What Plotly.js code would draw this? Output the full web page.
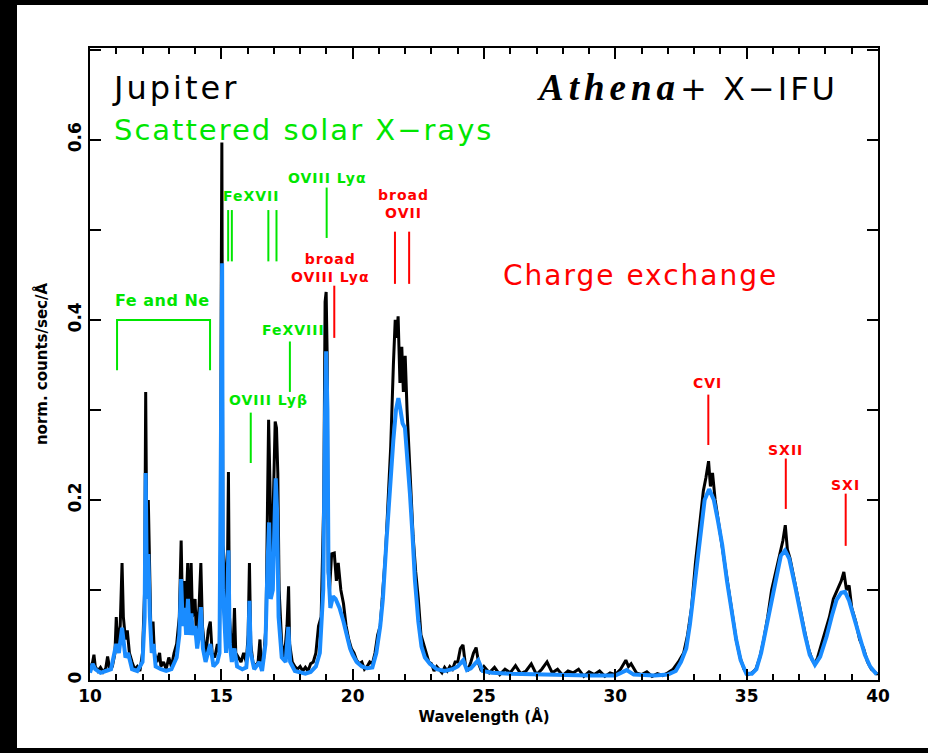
<!DOCTYPE html>
<html>
<head>
<meta charset="utf-8">
<script src="https://cdn.plot.ly/plotly-3.0.1.min.js"></script>
<style>
  html, body { margin: 0; padding: 0; background: #000; width: 928px; height: 753px; overflow: hidden; }
  #chart { position: absolute; left: 17px; top: 5px; width: 911px; height: 743px; }
</style>
</head>
<body>
<div id="chart"></div>
<script>
// High-resolution X-IFU spectrum (black)
const hiresWave = [10.0,10.1,10.15,10.2,10.3,10.4,10.5,10.6,10.67,10.75,10.85,10.95,11.0,11.05,11.15,11.22,11.27,11.35,11.42,11.5,11.6,11.7,11.8,11.9,12.0,12.08,12.12,12.17,12.22,12.27,12.32,12.4,12.45,12.55,12.65,12.7,12.8,12.9,13.0,13.1,13.2,13.3,13.4,13.47,13.52,13.6,13.65,13.72,13.78,13.85,13.9,14.0,14.05,14.15,14.22,14.28,14.35,14.42,14.5,14.58,14.65,14.75,14.85,14.92,14.97,15.0,15.02,15.06,15.12,15.17,15.22,15.27,15.31,15.38,15.45,15.5,15.55,15.65,15.75,15.85,15.95,16.02,16.07,16.12,16.2,16.3,16.4,16.47,16.52,16.6,16.7,16.76,16.8,16.85,16.9,16.95,17.0,17.05,17.1,17.15,17.2,17.3,17.4,17.5,17.56,17.6,17.7,17.8,17.9,18.0,18.1,18.2,18.3,18.4,18.5,18.6,18.7,18.8,18.9,18.95,18.99,19.03,19.07,19.12,19.2,19.3,19.38,19.45,19.55,19.65,19.75,19.85,19.95,20.05,20.15,20.25,20.35,20.45,20.55,20.65,20.75,20.85,20.95,21.05,21.15,21.25,21.35,21.45,21.55,21.62,21.68,21.73,21.8,21.87,21.93,22.0,22.07,22.15,22.22,22.3,22.4,22.5,22.6,22.7,22.8,22.9,23.0,23.1,23.2,23.3,23.4,23.5,23.6,23.7,23.8,23.9,24.0,24.1,24.2,24.3,24.4,24.5,24.6,24.7,24.8,24.9,25.0,25.2,25.4,25.6,25.8,26.0,26.2,26.4,26.6,26.8,27.0,27.2,27.4,27.6,27.8,28.0,28.2,28.4,28.6,28.8,29.0,29.2,29.4,29.6,29.8,30.0,30.2,30.4,30.5,30.6,30.8,31.0,31.2,31.4,31.6,31.8,32.0,32.2,32.4,32.6,32.75,32.9,33.05,33.2,33.35,33.45,33.55,33.62,33.7,33.8,33.9,34.0,34.15,34.3,34.45,34.6,34.75,34.9,35.05,35.2,35.35,35.5,35.65,35.8,35.95,36.1,36.25,36.38,36.47,36.55,36.65,36.75,36.9,37.05,37.2,37.35,37.5,37.6,37.7,37.85,38.0,38.15,38.3,38.45,38.6,38.7,38.8,38.9,39.0,39.15,39.3,39.45,39.6,39.75,39.9,40.0];
const hiresFlux = [0.012,0.02,0.028,0.015,0.01,0.014,0.009,0.013,0.026,0.012,0.015,0.03,0.07,0.04,0.06,0.13,0.07,0.045,0.055,0.03,0.02,0.012,0.015,0.01,0.03,0.1,0.32,0.12,0.2,0.12,0.05,0.065,0.03,0.02,0.03,0.015,0.02,0.012,0.025,0.015,0.03,0.04,0.07,0.155,0.08,0.11,0.07,0.13,0.06,0.13,0.07,0.09,0.05,0.08,0.13,0.06,0.04,0.03,0.055,0.065,0.03,0.025,0.04,0.03,0.15,0.46,0.597,0.15,0.13,0.05,0.08,0.231,0.07,0.04,0.035,0.08,0.03,0.025,0.02,0.03,0.02,0.05,0.13,0.04,0.02,0.015,0.02,0.045,0.015,0.02,0.06,0.2,0.289,0.22,0.12,0.16,0.21,0.287,0.28,0.23,0.1,0.04,0.025,0.06,0.104,0.04,0.02,0.015,0.012,0.015,0.01,0.014,0.01,0.018,0.02,0.03,0.06,0.07,0.2,0.42,0.431,0.36,0.12,0.1,0.14,0.141,0.11,0.13,0.1,0.085,0.06,0.045,0.035,0.03,0.022,0.018,0.02,0.012,0.015,0.02,0.018,0.03,0.05,0.06,0.1,0.14,0.2,0.26,0.35,0.4,0.38,0.404,0.33,0.37,0.32,0.36,0.3,0.25,0.2,0.16,0.12,0.09,0.05,0.04,0.03,0.02,0.018,0.01,0.015,0.012,0.008,0.014,0.01,0.015,0.012,0.02,0.02,0.035,0.039,0.015,0.012,0.02,0.03,0.036,0.018,0.01,0.015,0.008,0.014,0.006,0.012,0.008,0.016,0.007,0.01,0.018,0.006,0.012,0.02,0.008,0.012,0.005,0.01,0.008,0.012,0.004,0.009,0.006,0.01,0.004,0.008,0.006,0.012,0.022,0.015,0.018,0.008,0.006,0.009,0.004,0.007,0.005,0.008,0.012,0.02,0.03,0.05,0.08,0.13,0.17,0.21,0.225,0.243,0.215,0.23,0.2,0.18,0.16,0.13,0.1,0.07,0.045,0.025,0.012,0.006,0.008,0.012,0.025,0.045,0.07,0.1,0.12,0.14,0.155,0.172,0.145,0.135,0.12,0.1,0.075,0.055,0.035,0.022,0.018,0.025,0.04,0.055,0.07,0.09,0.1,0.11,0.12,0.1,0.105,0.08,0.065,0.045,0.035,0.02,0.012,0.008,0.006];

// Same spectrum at CCD-like resolution (blue)
const lowresWave = [10.0,10.1,10.2,10.4,10.6,10.8,11.0,11.1,11.22,11.35,11.45,11.6,11.8,12.0,12.08,12.12,12.17,12.22,12.28,12.35,12.42,12.5,12.7,12.9,13.1,13.3,13.4,13.47,13.53,13.6,13.66,13.73,13.8,13.86,13.92,14.0,14.08,14.15,14.22,14.3,14.4,14.5,14.58,14.7,14.85,14.93,14.97,15.0,15.03,15.06,15.12,15.18,15.27,15.32,15.4,15.5,15.6,15.8,15.95,16.03,16.07,16.12,16.25,16.45,16.55,16.68,16.76,16.82,16.88,16.96,17.02,17.07,17.12,17.18,17.3,17.45,17.55,17.62,17.8,18.0,18.2,18.4,18.6,18.75,18.88,18.95,18.99,19.04,19.08,19.15,19.25,19.35,19.5,19.65,19.78,19.9,20.0,20.15,20.35,20.55,20.75,20.9,21.05,21.15,21.29,21.42,21.55,21.65,21.74,21.82,21.9,21.99,22.08,22.18,22.28,22.37,22.5,22.62,22.75,22.94,23.2,23.5,23.8,24.0,24.21,24.35,24.5,24.78,24.95,25.3,26.0,27.0,28.0,29.0,30.0,30.43,30.7,31.5,32.0,32.3,32.5,32.7,32.84,33.0,33.22,33.4,33.57,33.75,33.9,34.07,34.25,34.45,34.6,34.77,34.99,35.2,35.37,35.55,35.75,35.9,36.08,36.3,36.46,36.62,36.84,37.0,37.22,37.4,37.6,37.8,38.04,38.25,38.42,38.6,38.74,38.9,39.12,39.3,39.5,39.7,39.95];
const lowresFlux = [0.008,0.018,0.012,0.008,0.01,0.012,0.04,0.03,0.058,0.025,0.03,0.012,0.01,0.02,0.07,0.23,0.09,0.14,0.07,0.03,0.04,0.015,0.012,0.01,0.012,0.025,0.05,0.112,0.06,0.08,0.05,0.09,0.05,0.074,0.05,0.06,0.035,0.05,0.081,0.035,0.02,0.03,0.04,0.015,0.02,0.03,0.2,0.463,0.463,0.1,0.06,0.03,0.144,0.04,0.02,0.035,0.015,0.012,0.014,0.04,0.088,0.03,0.012,0.02,0.01,0.04,0.13,0.175,0.09,0.1,0.17,0.224,0.19,0.07,0.025,0.02,0.059,0.02,0.01,0.008,0.007,0.009,0.015,0.03,0.1,0.3,0.365,0.3,0.12,0.08,0.093,0.09,0.08,0.065,0.05,0.035,0.028,0.02,0.015,0.013,0.014,0.03,0.06,0.09,0.156,0.22,0.267,0.3,0.313,0.3,0.285,0.28,0.25,0.207,0.16,0.111,0.065,0.037,0.025,0.018,0.012,0.01,0.012,0.015,0.022,0.011,0.013,0.022,0.01,0.008,0.007,0.006,0.006,0.005,0.005,0.011,0.006,0.005,0.006,0.01,0.02,0.035,0.062,0.1,0.156,0.2,0.212,0.2,0.178,0.15,0.11,0.072,0.045,0.022,0.007,0.007,0.012,0.03,0.059,0.085,0.111,0.138,0.144,0.135,0.105,0.08,0.05,0.028,0.017,0.026,0.048,0.072,0.089,0.097,0.098,0.088,0.065,0.045,0.028,0.015,0.006];

// Line identifications: label, position, marker segment and colour
const GREEN = '#00e600';
const RED = '#ff0000';
const idText  = ['FeXVII', 'OVIII Ly&#945;', 'broad<br>OVII', 'broad<br>OVIII Ly&#945;', 'FeXVIII', 'OVIII Ly&#946;', 'CVI', 'SXII', 'SXI'];
const idTextX = [16.13, 19.06, 21.95, 19.14, 17.73, 16.78, 33.52, 36.49, 38.78];
const idTextY = [0.538, 0.558, 0.529, 0.458, 0.389, 0.311, 0.33, 0.256, 0.217];
const idColor = [GREEN, GREEN, RED, RED, GREEN, GREEN, RED, RED, RED];

const tickWave  = [15.26, 15.40, 16.79, 17.10, 19.01, 21.61, 22.15, 19.30, 17.61, 16.12, 33.54, 36.49, 38.77];
const tickLow   = [0.465, 0.465, 0.465, 0.465, 0.491, 0.440, 0.440, 0.380, 0.320, 0.241, 0.261, 0.190, 0.149];
const tickHigh  = [0.522, 0.522, 0.522, 0.522, 0.547, 0.498, 0.498, 0.438, 0.376, 0.297, 0.317, 0.246, 0.207];
const tickColor = [GREEN, GREEN, GREEN, GREEN, GREEN, RED, RED, RED, GREEN, GREEN, RED, RED, RED];

// Bracket grouping the Fe and Ne lines
const bracketWave = [11.03, 11.03, 14.57, 14.57];
const bracketFlux = [0.344, 0.400, 0.400, 0.344];

const FONT = 'DejaVu Sans, Liberation Sans, sans-serif';

function spaced(text, px) {
  return '<span style="letter-spacing:' + px + 'px">' + text + '</span>';
}

const traces = [
  { x: hiresWave, y: hiresFlux, type: 'scatter', mode: 'lines',
    line: { color: '#000000', width: 3 }, hoverinfo: 'skip' },
  { x: lowresWave, y: lowresFlux, type: 'scatter', mode: 'lines',
    line: { color: '#1a8cff', width: 4 }, hoverinfo: 'skip' },
  { x: bracketWave, y: bracketFlux, type: 'scatter', mode: 'lines',
    line: { color: GREEN, width: 2 }, hoverinfo: 'skip' }
];

const shapes = tickWave.map((w, i) => ({
  type: 'line', xref: 'x', yref: 'y', x0: w, x1: w, y0: tickLow[i], y1: tickHigh[i],
  line: { color: tickColor[i], width: 2 }
}));

const annotations = idText.map((t, i) => ({
  text: t.split('<br>').map(s => spaced(s, 1)).join('<br>'),
  x: idTextX[i], y: idTextY[i], xref: 'x', yref: 'y',
  showarrow: false, xanchor: 'center', yanchor: 'middle',
  font: { family: FONT, size: 14, color: idColor[i], weight: 'bold' }
}));

annotations.push(
  { text: spaced('Jupiter', 3), x: 10.76, y: 0.658, xref: 'x', yref: 'y', showarrow: false,
    xanchor: 'left', yanchor: 'middle', font: { family: FONT, size: 32, color: '#000' } },
  { text: '<span style="font-family:Liberation Serif;font-style:italic;font-weight:bold;font-size:37px;letter-spacing:5px">Athena</span>' +
          spaced('+ X&#8722;IFU', 3),
    x: 38.55, y: 0.658, xref: 'x', yref: 'y', showarrow: false,
    xanchor: 'right', yanchor: 'middle', font: { family: FONT, size: 32, color: '#000' } },
  { text: spaced('Scattered solar X&#8722;rays', 2), x: 10.84, y: 0.611, xref: 'x', yref: 'y', showarrow: false,
    xanchor: 'left', yanchor: 'middle', font: { family: FONT, size: 29, color: GREEN } },
  { text: spaced('Fe and Ne', 0.5), x: 10.88, y: 0.422, xref: 'x', yref: 'y', showarrow: false,
    xanchor: 'left', yanchor: 'middle', font: { family: FONT, size: 16, color: GREEN, weight: 'bold' } },
  { text: spaced('Charge exchange', 2), x: 30.97, y: 0.449, xref: 'x', yref: 'y', showarrow: false,
    xanchor: 'center', yanchor: 'middle', font: { family: FONT, size: 28, color: RED } }
);

const layout = {
  width: 911, height: 743,
  margin: { l: 73, r: 50, t: 43, b: 68 },
  paper_bgcolor: '#ffffff', plot_bgcolor: '#ffffff',
  showlegend: false,
  font: { family: FONT, color: '#000' },
  xaxis: {
    range: [10, 40], dtick: 5, tick0: 10,
    ticks: 'inside', ticklen: 11, tickwidth: 2, tickcolor: '#000',
    showline: true, linewidth: 2, linecolor: '#000', mirror: 'allticks',
    showgrid: false, zeroline: false,
    minor: { dtick: 1, ticks: 'inside', ticklen: 6, tickwidth: 2, tickcolor: '#000', showgrid: false },
    tickfont: { family: FONT, size: 17, weight: 'bold' },
    title: { text: 'Wavelength (Å)', font: { family: FONT, size: 15, weight: 'bold' }, standoff: 6 }
  },
  yaxis: {
    range: [0, 0.702], dtick: 0.2, tick0: 0,
    ticks: 'inside', ticklen: 11, tickwidth: 2, tickcolor: '#000',
    showline: true, linewidth: 2, linecolor: '#000', mirror: 'allticks',
    showgrid: false, zeroline: false, tickangle: -90,
    minor: { dtick: 0.1, ticks: 'inside', ticklen: 11, tickwidth: 2, tickcolor: '#000', showgrid: false },
    tickfont: { family: FONT, size: 17, weight: 'bold' },
    title: { text: 'norm. counts/sec/Å', font: { family: FONT, size: 15, weight: 'bold' }, standoff: 14 }
  },
  shapes: shapes,
  annotations: annotations
};

Plotly.newPlot('chart', traces, layout, { displayModeBar: false, staticPlot: true });
</script>
</body>
</html>
